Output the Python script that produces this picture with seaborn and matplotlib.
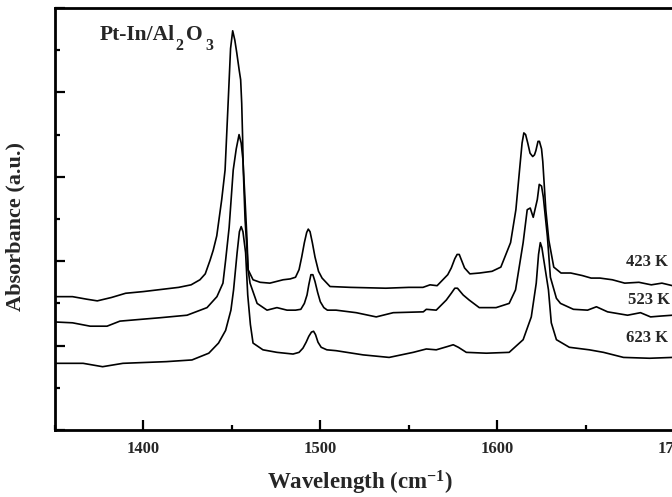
import matplotlib
matplotlib.use("Agg")
import matplotlib.pyplot as plt
from matplotlib.ticker import MultipleLocator, NullFormatter
import pandas as pd
import seaborn as sns

# FTIR spectra of pyridine adsorbed on Pt-In/Al2O3 after desorption at three temperatures
wn_423 = [1350, 1360, 1368, 1374, 1382, 1390, 1400, 1412, 1420, 1427,
          1432, 1435, 1437.7, 1439.5, 1441.5, 1444.3, 1446.2, 1448, 1449.3, 1450.5,
          1451.7, 1452.8, 1454.2, 1455.0, 1455.6, 1456.1, 1456.5, 1457.5, 1458.6, 1459.2,
          1462, 1466, 1471.5, 1479, 1483, 1486, 1488, 1489.5, 1491, 1492.3,
          1493.2, 1494.2, 1495.5, 1497, 1499, 1501, 1505.5, 1517, 1537, 1550,
          1558, 1562, 1566, 1572, 1574, 1576, 1577.3, 1578.5, 1580, 1581.5,
          1584.5, 1590, 1597, 1602, 1607.5, 1610.5, 1612.7, 1614, 1615, 1616,
          1617.2, 1618.5, 1620, 1621, 1621.8, 1623, 1623.8, 1625, 1625.7, 1627.4,
          1629.1, 1631.9, 1636, 1641.5, 1648, 1653, 1658, 1665, 1672, 1680,
          1687, 1693, 1699, 1710, 1720]
abs_423 = [0.158, 0.158, 0.155, 0.153, 0.157, 0.162, 0.164, 0.167, 0.169, 0.172,
           0.178, 0.185, 0.201, 0.213, 0.230, 0.273, 0.308, 0.391, 0.452, 0.473,
           0.462, 0.447, 0.426, 0.415, 0.387, 0.347, 0.308, 0.249, 0.213, 0.190,
           0.178, 0.175, 0.174, 0.178, 0.179, 0.181, 0.190, 0.205, 0.222, 0.234,
           0.238, 0.235, 0.222, 0.205, 0.188, 0.180, 0.170, 0.169, 0.168, 0.169,
           0.169, 0.172, 0.171, 0.184, 0.192, 0.203, 0.208, 0.208, 0.200, 0.192,
           0.185, 0.186, 0.188, 0.193, 0.222, 0.261, 0.311, 0.340, 0.352, 0.350,
           0.340, 0.328, 0.324, 0.326, 0.331, 0.342, 0.342, 0.333, 0.318, 0.261,
           0.225, 0.193, 0.186, 0.186, 0.183, 0.180, 0.180, 0.178, 0.174, 0.175,
           0.172, 0.174, 0.171, 0.171, 0.170]

wn_523 = [1350, 1360, 1370, 1379.5, 1386.8, 1398, 1409.4, 1424.7, 1436, 1441.6,
          1445, 1446.5, 1448.5, 1450.8, 1452.5, 1454.1, 1455.3, 1456.3, 1457.5, 1458.6,
          1459.2, 1460.3, 1464.3, 1469.9, 1475.5, 1481.2, 1486, 1489, 1491, 1492.5,
          1493.5, 1494.7, 1495.8, 1497, 1498.5, 1500, 1502, 1504, 1508.9, 1520.3,
          1531.6, 1541.2, 1558.2, 1559.9, 1565.5, 1571.2, 1574, 1576, 1577.5, 1580.7,
          1584.1, 1589.8, 1599.3, 1606.7, 1610.3, 1614.6, 1616.9, 1618.6, 1620.3, 1622.6,
          1623.7, 1625, 1626, 1628.3, 1630, 1633.4, 1635.7, 1643, 1651, 1656,
          1662.3, 1673.6, 1680.9, 1686.6, 1692.3, 1699, 1710, 1720]
abs_523 = [0.128, 0.127, 0.123, 0.123, 0.129, 0.131, 0.133, 0.136, 0.145, 0.158,
           0.174, 0.201, 0.240, 0.308, 0.333, 0.350, 0.340, 0.320, 0.272, 0.225,
           0.190, 0.174, 0.150, 0.142, 0.145, 0.142, 0.142, 0.143, 0.150, 0.160,
           0.172, 0.184, 0.184, 0.176, 0.163, 0.152, 0.145, 0.142, 0.142, 0.139,
           0.134, 0.139, 0.140, 0.143, 0.142, 0.154, 0.162, 0.168, 0.168, 0.160,
           0.154, 0.145, 0.145, 0.150, 0.166, 0.222, 0.261, 0.263, 0.252, 0.273,
           0.291, 0.289, 0.276, 0.229, 0.181, 0.156, 0.150, 0.143, 0.142, 0.146,
           0.140, 0.136, 0.139, 0.134, 0.135, 0.136, 0.135, 0.135]

wn_623 = [1350, 1366, 1377, 1388.5, 1413, 1427.5, 1437, 1442.5, 1446.5, 1449.5,
          1451, 1453, 1454.3, 1455.3, 1456.3, 1457.8, 1459, 1460.5, 1462, 1467.6,
          1475.5, 1484.6, 1488, 1490.2, 1492, 1493.5, 1495, 1496.2, 1497.3, 1498.7,
          1500.5, 1503.7, 1508.9, 1524.2, 1538.9, 1552.5, 1559.9, 1565.5, 1572, 1575.1,
          1578, 1582.5, 1593.8, 1606.7, 1614.6, 1619.2, 1622, 1623.3, 1624.3, 1625.2,
          1626, 1628.9, 1630.5, 1633.4, 1640.7, 1652, 1660, 1671.3, 1686, 1699,
          1710, 1720]
abs_623 = [0.079, 0.079, 0.075, 0.079, 0.081, 0.083, 0.091, 0.103, 0.118, 0.142,
           0.166, 0.210, 0.235, 0.241, 0.235, 0.210, 0.160, 0.125, 0.103, 0.095,
           0.092, 0.090, 0.092, 0.097, 0.104, 0.111, 0.116, 0.117, 0.113, 0.104,
           0.098, 0.095, 0.094, 0.089, 0.086, 0.092, 0.096, 0.095, 0.099, 0.101,
           0.098, 0.092, 0.091, 0.092, 0.107, 0.134, 0.174, 0.208, 0.222, 0.216,
           0.205, 0.166, 0.127, 0.107, 0.098, 0.095, 0.092, 0.086, 0.085, 0.086,
           0.086, 0.086]

temperatures = ["423 K", "523 K", "623 K"]
label_wn = [1672.5, 1674, 1672.5]
label_abs = [0.199, 0.154, 0.109]

frames = []
for temp, wn, ab in zip(temperatures, [wn_423, wn_523, wn_623], [abs_423, abs_523, abs_623]):
    frames.append(pd.DataFrame({"wavenumber": wn, "absorbance": ab, "temp": temp}))
df = pd.concat(frames, ignore_index=True)

sns.set_style("ticks")
plt.rcParams["font.family"] = ["Liberation Serif", "DejaVu Serif"]
plt.rcParams["font.weight"] = "bold"
plt.rcParams["mathtext.fontset"] = "custom"
plt.rcParams["mathtext.rm"] = "Liberation Serif:bold"
plt.rcParams["mathtext.it"] = "Liberation Serif:bold"
plt.rcParams["mathtext.bf"] = "Liberation Serif:bold"

fig = plt.figure(figsize=(6.72, 4.97), dpi=100)
# the plotting frame runs past the right edge of the figure
ax = fig.add_axes([54.8 / 672, 1 - 430 / 497, 708 / 672, 422 / 497])

sns.lineplot(data=df, x="wavenumber", y="absorbance", hue="temp", units="temp",
             estimator=None, palette=["black"] * 3, linewidth=1.2, legend=False, ax=ax)

ax.set_xlim(1350, 1750)
ax.set_ylim(0, 0.5)

ax.xaxis.set_major_locator(MultipleLocator(100))
ax.xaxis.set_minor_locator(MultipleLocator(50))
ax.yaxis.set_major_locator(MultipleLocator(0.1))
ax.yaxis.set_minor_locator(MultipleLocator(0.05))
ax.yaxis.set_major_formatter(NullFormatter())

ax.tick_params(axis="both", which="both", direction="in", color="black", width=1.6)
ax.tick_params(axis="both", which="major", length=7)
ax.tick_params(axis="both", which="minor", length=3.5)
ax.tick_params(axis="x", which="major", pad=8, labelsize=12)
ax.tick_params(top=False, right=False, which="both")
for lab in ax.get_xticklabels():
    lab.set_fontweight("bold")

for side in ["left", "bottom", "top", "right"]:
    ax.spines[side].set_linewidth(2.0)
    ax.spines[side].set_color("black")

ax.set_xlabel("Wavelength (cm$^{-1}$)", fontsize=16.5, fontweight="bold", va="center")
ax.xaxis.set_label_coords(0.431, -0.125)
ax.set_ylabel("Absorbance (a.u.)", fontsize=16, fontweight="bold", va="center")
ax.yaxis.set_label_coords(-0.056, 0.483)

# sample name with dropped subscripts
ax.text(1375.5, 0.462, "Pt-In/Al", fontsize=15.5, fontweight="bold", ha="left", va="baseline")
ax.text(1418.0, 0.450, "2", fontsize=11.5, fontweight="bold", ha="left", va="baseline")
ax.text(1424.3, 0.462, "O", fontsize=15.5, fontweight="bold", ha="left", va="baseline")
ax.text(1435.0, 0.450, "3", fontsize=11.5, fontweight="bold", ha="left", va="baseline")

for t, x, y in zip(temperatures, label_wn, label_abs):
    ax.text(x, y, t, fontsize=12, fontweight="bold", ha="left", va="center")

fig.savefig("out.png", dpi=100)
